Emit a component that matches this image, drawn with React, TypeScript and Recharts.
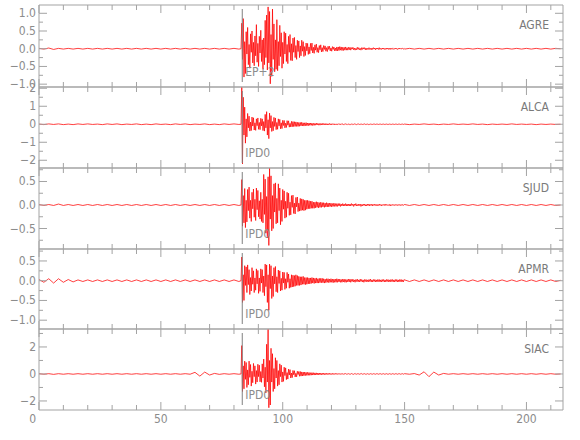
import React from 'react';
import { LineChart, Line, XAxis, YAxis, ReferenceLine } from 'recharts';

// ---------- styling ----------
const FONT = "'Liberation Sans Narrow', 'DejaVu Sans Condensed', 'Liberation Sans', sans-serif";
const AXIS_COLOR = '#a3a3a3';
const TEXT_COLOR = '#8c8c8c';
const TRACE_COLOR = '#ff0000';
const PICK_COLOR = '#808080';

// ---------- axes ----------
const X_DOMAIN: [number, number] = [0, 215];
const X_TICKS = [0, 10, 20, 30, 40, 50, 60, 70, 80, 90, 100, 110, 120, 130, 140, 150, 160, 170, 180, 190, 200, 210];
const X_LABELS = [0, 50, 100, 150, 200];

const stations = ['AGRE', 'ALCA', 'SJUD', 'APMR', 'SIAC'];
const pickLabels = ['EP+2', 'IPD0', 'IPD0', 'IPD0', 'IPD0'];
const PICK_TIME = 83.4;

const yDomains: [number, number][] = [
  [-1.08, 1.234],
  [-2.43, 2.07],
  [-0.936, 0.787],
  [-1.223, 0.803],
  [-2.67, 3.33],
];
const yTicks = [
  [-1, -0.75, -0.5, -0.25, 0, 0.25, 0.5, 0.75, 1],
  [-2, -1.5, -1, -0.5, 0, 0.5, 1, 1.5, 2],
  [-0.75, -0.5, -0.25, 0, 0.25, 0.5, 0.75],
  [-1, -0.75, -0.5, -0.25, 0, 0.25, 0.5, 0.75],
  [-2, -1, 0, 1, 2, 3],
];
const yLabels = [
  [-1, -0.5, 0, 0.5, 1],
  [-2, -1, 0, 1, 2],
  [-0.5, 0, 0.5],
  [-1, -0.5, 0, 0.5],
  [-2, 0, 2],
];
const yDecimals = [1, 0, 1, 1, 0];

// panel top/bottom edges (page pixels)
const panelEdges = [5, 87, 168, 249, 329, 410];

// ---------- sampling (seconds) ----------
const PRE_T0 = 0;
const PRE_DT = 2;
const EVENT_T0 = 82.9;
const EVENT_DT = 0.3;
const POST_T0 = 150;
const POST_DT = 2;

// ---------- amplitudes (in hundredths of the trace units) ----------
const agrePre = [1,-1,2,-2,1,-1,1,-1,1,-1, 1,-1,1,-1,1,-1,1,-1,1,-1, 1,-1,1,-1,1,-1,1,-1,1,-1, 1,-1,1,-1,1,-1,1,-1,1,-1, 1,-1];
const agreEvent = [
  0, 72, -30, 85, -80, 20, -70, 48, -15, 60,
  -45, 12, -55, 42, -10, 50, -40, 18, -48, 36,
  -20, 68, -38, 15, -50, 35, -12, 52, -36, 25,
  -58, 30, -45, 80, -25, 95, -60, 118, -40, 105,
  -99, 40, -78, 112, -30, 70, -65, 25, -58, 82,
  -62, 20, -48, 66, -22, 45, -55, 18, -42, 48,
  -15, 44, -36, 12, -42, 35, -10, 40, -33, 14,
  -34, 30, -10, 32, -25, 9, -30, 24, -8, 22,
  -25, 8, -20, 24, -7, 20, -22, 6, -19, 16,
  -6, 15, -16, 5, -14, 15, -5, 16, -12, 4,
  -13, 11, -4, 13, -10, 3, -11, 9, -3, 11,
  -9, 3, -8, 9, -2, 8, -7, 3, -8, 7,
  -2, 7, -6, 2, -7, 6, -2, 5, -6, 2,
  -6, 5, -6, 5, -5, 6, -4, 5, -5, 4,
  -5, 4, -4, 5, -4, 3, -4, 4, -3, 4,
  -4, 3, -1, 4, -3, 2, -4, 1, -3, 4,
  -2, 3, -3, 1, -4, 3, -2, 3, -1, 3,
  -3, 2, -3, 1, -2, 3, -2, 1, -3, 2,
  -2, 3, -1, 2, -3, 2, -1, 2, -2, 3,
  -2, 1, -2, 2, -1, 2, -2, 1, -2, 2,
  -1, 2, -2, 1, -2, 2, -1, 1, -2, 1,
  -1, 2, -1, 1, -2, 1, -1, 2, -1, 1,
  -1, 1, -1, 1,
];
const agrePost = [-1,1,-1,1,-1,1,-1,1,-1,1, -1,1,-1,1,-1,1,-1,1,-1,1, -1,1,-1,1,-1,1,-1,1,-1,1, -1,1,0];

const alcaPre = [1,-2,2,-1,2,-2,1,-2,2,-1, 2,-1,1,-2,2,-1,2,-2,1,-1, 2,-2,1,-2,2,-1,1,-2,2,-1, 2,-2,1,-1,2,-2,1,-2,2,-1, 2,-1];
const alcaEvent = [
  0, 205, -220, 150, -60, 95, -105, 30, -70, 60,
  -20, 45, -38, 12, -35, 40, -10, 36, -32, 8,
  -34, 30, -8, 35, -28, 10, -30, 33, -9, 30,
  -35, 15, -38, 55, -20, 70, -60, 25, -80, 62,
  -20, 48, -40, 15, -36, 38, -12, 35, -30, 10,
  -28, 30, -9, 27, -25, 8, -24, 22, -7, 21,
  -20, 6, -18, 20, -5, 19, -16, 5, -15, 16,
  -14, 15, -13, 14, -12, 13, -12, 11, -12, 10,
  -11, 10, -9, 11, -9, 8, -10, 8, -8, 9,
  -8, 7, -8, 7, -6, 7, -6, 6, -7, 5,
  -6, 5, -5, 6, -4, 5, -5, 4, -5, 4,
  -4, 5, -4, 4, -3, 4, -4, 3, -4, 3,
  -3, 4, -3, 3, -3, 3, -2, 3, -3, 2,
  -3, 2, -2, 3, -2, 2, -2, 3, -2, 2,
  -2, 2, -2, 2, -1, 2, -2, 1, -2, 2,
  -2, 1, -2, 2, -1, 2, -1, 1, -2, 1,
  -1, 2, -1, 1, -2, 1, -1, 1, -1, 2,
  -1, 1, -1, 1, -2, 1, -1, 1, -1, 1,
  -1, 1, -1, 2, -1, 1, -1, 1, -1, 1,
  -1, 1, -1, 1, -1, 1, -1, 1, -1, 1,
  -1, 1, -1, 1, -1, 1, -1, 1, -1, 1,
  -1, 1, -1, 1, -1, 1, -1, 1, -1, 1,
  -1, 1, -1, 1,
];
const alcaPost = [1,-2,1,-1,2,-1,1,-2,1,-1, 2,-1,1,-1,2,-1,1,-2,1,-1, 1,-1,2,-1,1,-1,1,-2,1,-1, 1,-1,0];

const sjudPre = [1,-1,1,-1,2,-1,1,-1,1,-1, 1,-1,1,-1,1,-1,1,-1,1,-1, 1,-1,1,-1,1,-1,1,-1,1,-1, 1,-1,1,-1,1,-1,1,-1,1,-1, 1,-1];
const sjudEvent = [
  0, 54, -45, 20, -38, 35, -48, 10, -36, 33,
  -12, 38, -28, 10, -35, 27, -8, 34, -26, 12,
  -33, 36, -10, 31, -25, 9, -30, 27, -35, 12,
  -38, 65, -20, 55, -60, 18, -70, 60, -86, 78,
  -30, 62, -55, 20, -50, 45, -15, 47, -40, 14,
  -38, 45, -12, 36, -42, 10, -35, 33, -9, 30,
  -28, 8, -26, 27, -7, 25, -22, 6, -21, 20,
  -5, 21, -18, 4, -19, 16, -4, 17, -14, 4,
  -13, 14, -12, 13, -11, 12, -12, 10, -11, 10,
  -9, 10, -8, 9, -8, 8, -7, 8, -7, 6,
  -7, 6, -6, 7, -5, 6, -6, 5, -5, 6,
  -5, 5, -4, 5, -5, 4, -4, 5, -4, 4,
  -4, 4, -3, 4, -4, 3, -3, 4, -3, 3,
  -3, 3, -3, 3, -2, 3, -3, 2, -2, 3,
  -2, 2, -2, 3, -2, 2, -2, 2, -2, 2,
  -2, 3, -1, 2, -3, 2, -1, 3, -2, 1,
  -2, 2, -1, 2, -3, 1, -2, 2, -1, 2,
  -2, 1, -2, 2, -1, 2, -2, 1, -1, 2,
  -2, 1, -1, 2, -1, 1, -2, 1, -1, 2,
  -1, 1, -2, 1, -1, 1, -1, 2, -1, 1,
  -1, 1, -1, 1, -2, 1, -1, 1, -1, 1,
  -1, 1, -1, 1, -1, 1, -1, 1, -1, 1,
  -1, 1, -1, 1,
];
const sjudPost = [1,-1,1,-1,1,-1,1,-1,1,-1, 1,-1,1,-1,1,-1,1,-1,1,-1, 1,-1,1,-1,1,-1,1,-1,1,-1, 1,-1,0];

const apmrPre = [3,-4,5,-6,5,-4,3,-3,2,-2, 2,-2,2,-2,2,-2,2,-2,2,-2, 2,-2,2,-2,2,-2,2,-2,2,-2, 2,-2,2,-2,2,-2,2,-2,2,-2, 2,-2];
const apmrEvent = [
  0, 60, -55, 15, -50, 38, -12, 35, -30, 40,
  -10, 28, -35, 8, -26, 33, -9, 25, -30, 7,
  -24, 30, -8, 26, -32, 7, -27, 30, -6, 28,
  -30, 12, -38, 42, -15, 40, -55, 15, -75, 42,
  -20, 38, -45, 12, -40, 33, -8, 36, -28, 10,
  -30, 27, -7, 25, -26, 6, -24, 22, -6, 21,
  -22, 5, -19, 21, -4, 17, -19, 5, -17, 15,
  -16, 14, -15, 13, -14, 15, -12, 13, -12, 11,
  -12, 10, -11, 10, -9, 11, -9, 8, -10, 8,
  -9, 8, -8, 7, -8, 7, -7, 8, -6, 7,
  -7, 6, -6, 7, -6, 5, -6, 6, -5, 6,
  -5, 6, -5, 5, -6, 4, -5, 5, -4, 5,
  -5, 4, -4, 5, -4, 4, -5, 4, -4, 4,
  -4, 5, -4, 4, -3, 4, -4, 3, -4, 4,
  -3, 4, -4, 3, -4, 3, -3, 4, -3, 4,
  -4, 3, -2, 4, -3, 2, -4, 3, -2, 4,
  -3, 2, -3, 4, -2, 3, -3, 2, -4, 3,
  -2, 3, -3, 2, -3, 3, -2, 4, -3, 2,
  -3, 3, -2, 3, -3, 2, -3, 3, -2, 3,
  -3, 2, -3, 3, -2, 3, -3, 2, -3, 3,
  -2, 3, -3, 2, -3, 3, -2, 3, -3, 2,
  -3, 3, -2, 3, -3, 2, -3, 3, -2, 3,
  -3, 2, -3, 3,
];
const apmrPost = [2,-2,2,-2,2,-2,2,-2,2,-2, 2,-2,2,-2,2,-2,2,-2,2,-2, 2,-2,2,-2,2,-2,2,-2,2,-2, 2,-2,1];

const siacPre = [2,-2,2,-3,2,-2,2,-2,2,-2, 2,-2,2,-2,2,-2,2,-2,2,-2, 2,-2,2,-2,2,-2,2,-2,2,-2, 2,-2,12,-16,14,-8,4,-3,2,-2, 2,-2];
const siacEvent = [
  0, 210, -130, 60, -110, 95, -40, 85, -100, 30,
  -80, 95, -25, 70, -90, 20, -65, 78, -20, 60,
  -75, 25, -60, 72, -20, 65, -58, 18, -62, 75,
  -30, 110, -95, 50, -140, 220, -60, 330, -250, 100,
  -230, 190, -60, 150, -130, 40, -110, 120, -30, 100,
  -90, 25, -80, 75, -20, 65, -60, 15, -55, 50,
  -12, 45, -42, 10, -38, 36, -8, 32, -30, 7,
  -27, 26, -6, 24, -22, 5, -21, 20, -4, 18,
  -17, 18, -16, 15, -15, 14, -13, 14, -12, 12,
  -11, 12, -10, 11, -10, 9, -9, 10, -8, 9,
  -8, 8, -7, 8, -7, 7, -6, 7, -6, 6,
  -6, 6, -5, 6, -5, 5, -5, 5, -4, 5,
  -4, 5, -4, 4, -4, 4, -4, 4, -3, 4,
  -3, 4, -3, 3, -3, 3, -3, 3, -3, 3,
  -3, 3, -2, 3, -2, 3, -2, 2, -2, 2,
  -2, 3, -2, 2, -3, 2, -2, 3, -2, 2,
  -3, 2, -2, 2, -2, 3, -2, 2, -2, 2,
  -2, 2, -3, 2, -2, 2, -2, 2, -2, 3,
  -2, 2, -2, 2, -2, 2, -2, 2, -2, 2,
  -2, 2, -2, 2, -2, 2, -2, 2, -2, 2,
  -2, 2, -2, 2, -2, 2, -2, 2, -2, 2,
  -2, 2, -2, 2, -2, 2, -2, 2, -2, 2,
  -2, 2, -2, 2,
];
const siacPost = [2,-2,3,-8,16,-20,14,-8,4,-2, 2,-2,2,-2,2,-2,2,-2,2,-2, 2,-2,2,-2,2,-2,2,-2,2,-2, 2,-2,0];

const preArrays = [agrePre, alcaPre, sjudPre, apmrPre, siacPre];
const eventArrays = [agreEvent, alcaEvent, sjudEvent, apmrEvent, siacEvent];
const postArrays = [agrePost, alcaPost, sjudPost, apmrPost, siacPost];

type Pt = { t: number; v: number };
function buildTrace(pre: number[], ev: number[], post: number[]): Pt[] {
  const pts: Pt[] = [];
  pre.forEach((v, i) => pts.push({ t: PRE_T0 + i * PRE_DT, v: v / 100 }));
  ev.forEach((v, i) => pts.push({ t: +(EVENT_T0 + i * EVENT_DT).toFixed(2), v: v / 100 }));
  post.forEach((v, i) => pts.push({ t: POST_T0 + i * POST_DT, v: v / 100 }));
  return pts;
}
const traces = stations.map((_, i) => buildTrace(preArrays[i], eventArrays[i], postArrays[i]));

// ---------- helpers ----------
const near = (a: number, b: number) => Math.abs(a - b) < 1e-9;
const fmt = (v: number, d: number) => {
  const s = Math.abs(v).toFixed(d);
  return v < -1e-9 ? '\u2212' + s : s;
};
const textStyle = { fontFamily: FONT, fontSize: 12, fill: TEXT_COLOR } as const;

function XTick(props: any) {
  const { x, y, payload, dir, showLabel } = props;
  const v = payload.value as number;
  const major = X_LABELS.some((l) => near(l, v));
  const len = major ? 8 : 5;
  return (
    <g>
      <line x1={x} x2={x} y1={y} y2={y + dir * len} stroke={AXIS_COLOR} strokeWidth={1} />
      {showLabel && major && (
        <text x={v === 0 ? x - 3 : x} y={y + 13} textAnchor={v === 0 ? 'end' : 'middle'} style={textStyle}>
          {String(v)}
        </text>
      )}
    </g>
  );
}

function YTick(props: any) {
  const { x, y, payload, dir, labels, decimals, showLabel } = props;
  const v = payload.value as number;
  const major = (labels as number[]).some((l) => near(l, v));
  const len = major ? 8 : 4;
  return (
    <g>
      <line x1={x} x2={x + dir * len} y1={y} y2={y} stroke={AXIS_COLOR} strokeWidth={1} />
      {showLabel && major && (
        <text x={x - 3} y={y + 4} textAnchor="end" style={textStyle}>
          {fmt(v, decimals)}
        </text>
      )}
    </g>
  );
}

function Panel({ idx }: { idx: number }) {
  const top = panelEdges[idx];
  const bottom = panelEdges[idx + 1];
  const isLast = idx === stations.length - 1;
  const labels = yLabels[idx];
  const decimals = yDecimals[idx];
  return (
    <div style={{ position: 'absolute', left: 0, top: 0, width: 580, height: 440 }}>
      <LineChart width={580} height={440} data={traces[idx]} margin={{ top: 0, right: 0, bottom: 0, left: 0 }}>
        <XAxis
          xAxisId="b"
          dataKey="t"
          type="number"
          orientation="bottom"
          domain={X_DOMAIN}
          ticks={X_TICKS}
          interval={0}
          height={440 - bottom}
          tickSize={0}
          tickMargin={0}
          tickLine={false}
          axisLine={{ stroke: AXIS_COLOR }}
          allowDataOverflow
          tick={(p: any) => <XTick {...p} dir={-1} showLabel={isLast} />}
        />
        <XAxis
          xAxisId="t"
          dataKey="t"
          type="number"
          orientation="top"
          domain={X_DOMAIN}
          ticks={X_TICKS}
          interval={0}
          height={top}
          tickSize={0}
          tickMargin={0}
          tickLine={false}
          axisLine={{ stroke: AXIS_COLOR }}
          allowDataOverflow
          tick={(p: any) => <XTick {...p} dir={1} showLabel={false} />}
        />
        <YAxis
          yAxisId="l"
          type="number"
          orientation="left"
          domain={yDomains[idx]}
          ticks={yTicks[idx]}
          interval={0}
          width={39}
          tickSize={0}
          tickMargin={0}
          tickLine={false}
          axisLine={{ stroke: AXIS_COLOR }}
          allowDataOverflow
          tick={(p: any) => <YTick {...p} dir={1} labels={labels} decimals={decimals} showLabel />}
        />
        <YAxis
          yAxisId="r"
          type="number"
          orientation="right"
          domain={yDomains[idx]}
          ticks={yTicks[idx]}
          interval={0}
          width={17}
          tickSize={0}
          tickMargin={0}
          tickLine={false}
          axisLine={{ stroke: AXIS_COLOR }}
          allowDataOverflow
          tick={(p: any) => <YTick {...p} dir={-1} labels={labels} decimals={decimals} showLabel={false} />}
        />
        <Line
          xAxisId="b"
          yAxisId="l"
          dataKey="v"
          type="linear"
          stroke={TRACE_COLOR}
          strokeWidth={0.75}
          dot={false}
          activeDot={false}
          isAnimationActive={false}
        />
        <ReferenceLine
          xAxisId="b"
          yAxisId="l"
          x={PICK_TIME}
          ifOverflow="visible"
          shape={(p: any) => {
            const yTop = Math.min(p.y1, p.y2);
            const yBot = Math.max(p.y1, p.y2);
            return (
              <g>
                <line x1={p.x1} x2={p.x1} y1={yTop + 4} y2={yBot - 5} stroke={PICK_COLOR} strokeWidth={1} />
                <text x={p.x1 + 3} y={yBot - 11} style={textStyle}>
                  {pickLabels[idx]}
                </text>
              </g>
            );
          }}
        />
        <ReferenceLine
          xAxisId="b"
          yAxisId="l"
          x={X_DOMAIN[1]}
          ifOverflow="visible"
          shape={(p: any) => {
            const yTop = Math.min(p.y1, p.y2);
            return (
              <text x={p.x1 - 14} y={yTop + 24} textAnchor="end" style={{ ...textStyle, fill: '#7a7a7a' }}>
                {stations[idx]}
              </text>
            );
          }}
        />
      </LineChart>
    </div>
  );
}

export default function App() {
  return (
    <div style={{ position: 'absolute', left: 0, top: 0, width: 580, height: 440, background: '#ffffff' }}>
      {stations.map((s, i) => (
        <Panel key={s} idx={i} />
      ))}
    </div>
  );
}
